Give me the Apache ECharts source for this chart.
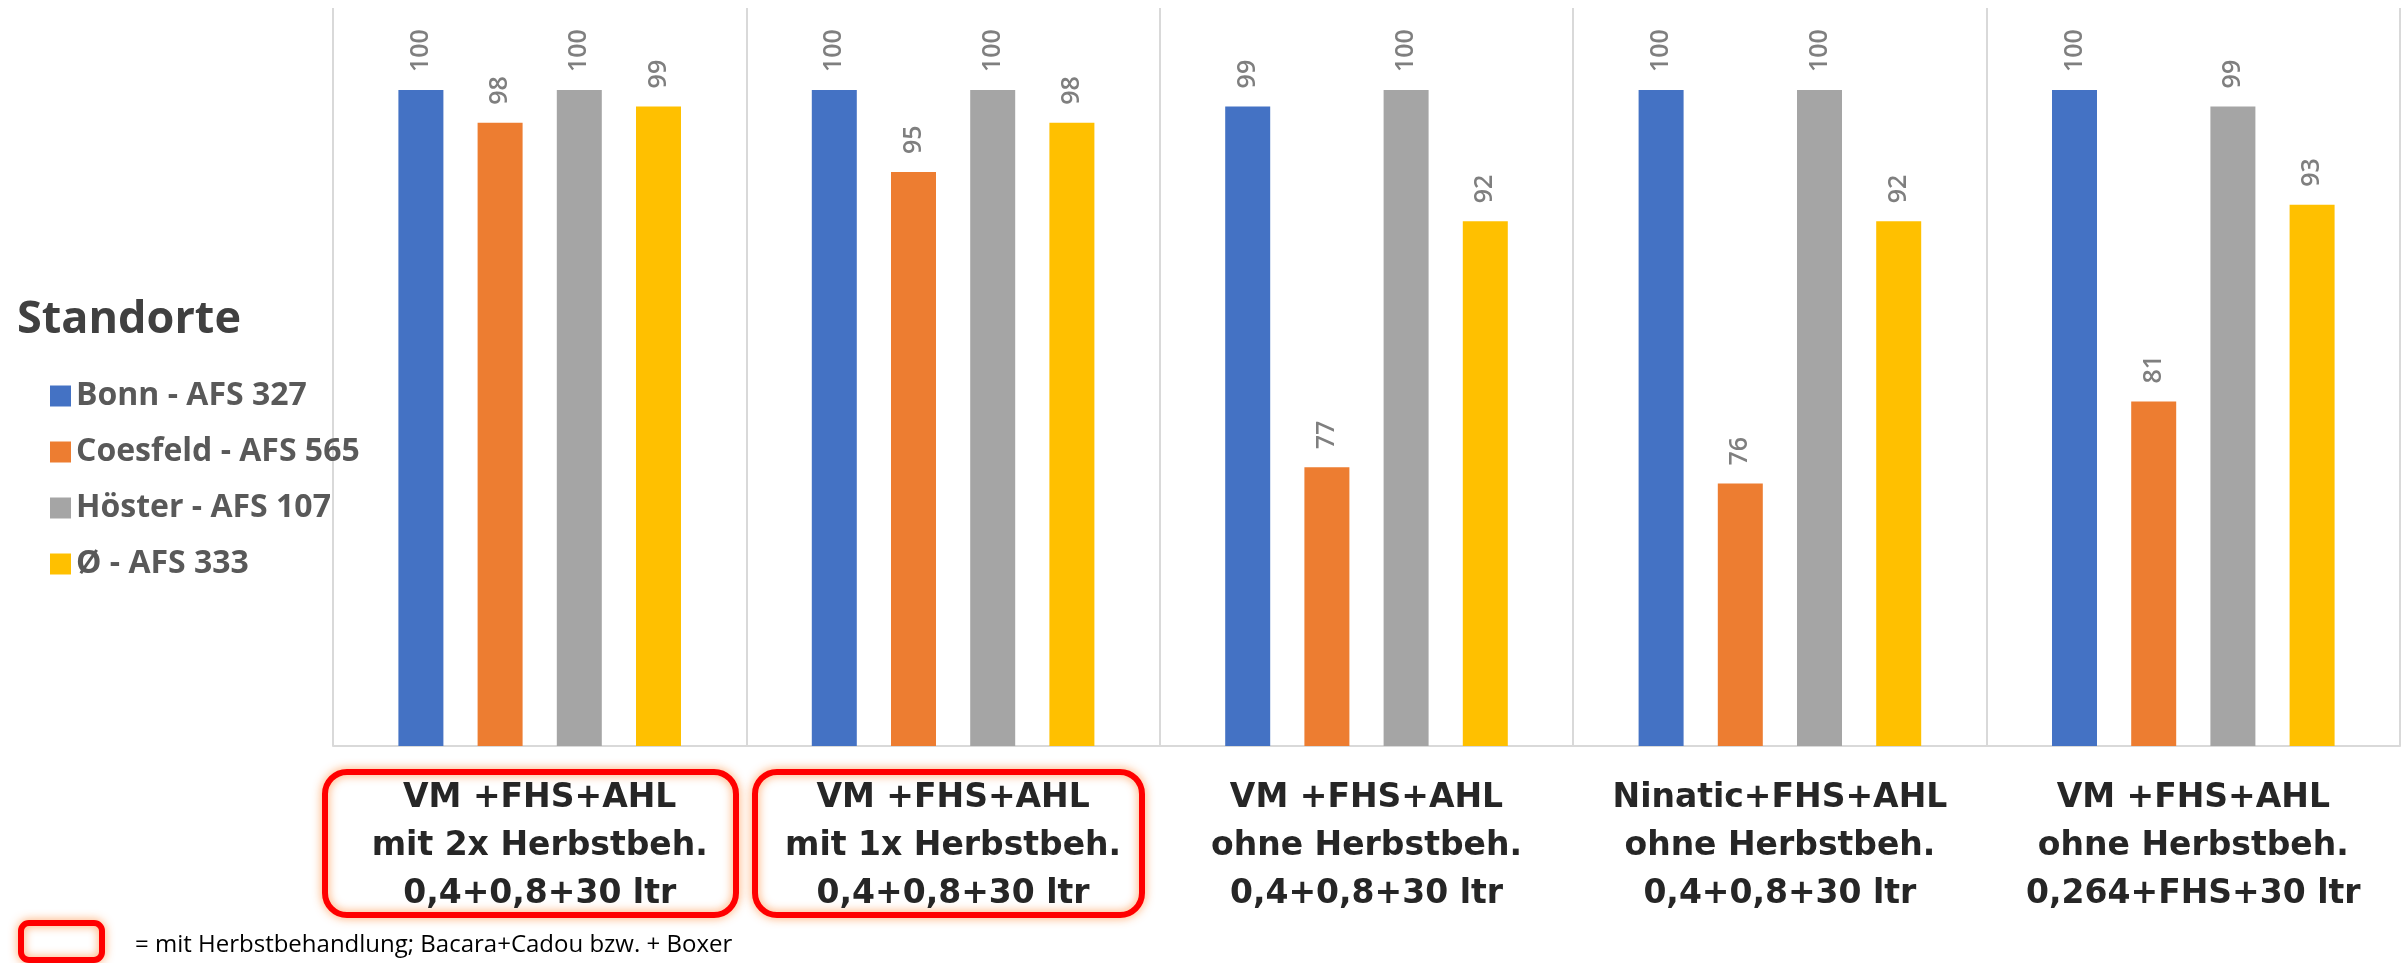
<!DOCTYPE html>
<html>
<head>
<meta charset="utf-8">
<title>Standorte</title>
<script src="https://cdn.jsdelivr.net/npm/echarts@6/dist/echarts.min.js"></script>
<style>
  html, body { margin: 0; padding: 0; background: #fff; }
  #chartBar { width: 2407px; height: 963px; }
</style>
</head>
<body>
<div id="chartBar"></div>
<script>
// Varianten (x-Achse)
var categories = [
  "VM +FHS+AHL\nmit 2x Herbstbeh.\n0,4+0,8+30 ltr",
  "VM +FHS+AHL\nmit 1x Herbstbeh.\n0,4+0,8+30 ltr",
  "VM +FHS+AHL\nohne Herbstbeh.\n0,4+0,8+30 ltr",
  "Ninatic+FHS+AHL\nohne Herbstbeh.\n0,4+0,8+30 ltr",
  "VM +FHS+AHL\nohne Herbstbeh.\n0,264+FHS+30 ltr"
];
var seriesNames = ["Bonn - AFS 327", "Coesfeld - AFS 565", "Höster - AFS 107", "Ø - AFS 333"];
var bonn = [100, 100, 99, 100, 100];
var coesfeld = [98, 95, 77, 76, 81];
var hoester = [100, 100, 100, 100, 99];
var mittel = [99, 98, 92, 92, 93];
var colors = ["#4472C4", "#ED7D31", "#A5A5A5", "#FFC000"];

var chartBar = echarts.init(document.getElementById("chartBar"));

function makeSeries(name, data, color) {
  return {
    name: name,
    type: "bar",
    data: data,
    barWidth: 45,
    barGap: "76%",
    itemStyle: { color: color },
    label: {
      show: true,
      position: "top",
      rotate: 90,
      align: "left",
      verticalAlign: "middle",
      distance: 18,
      color: "#7F7F7F",
      fontFamily: "Open Sans",
      fontWeight: 600,
      fontSize: 25
    }
  };
}

// rote Rahmen = mit Herbstbehandlung
var boxStyle = {
  fill: "none",
  stroke: "#FF0000",
  lineWidth: 6,
  shadowBlur: 10,
  shadowColor: "rgba(255,140,60,0.85)"
};

chartBar.setOption({
  animation: false,
  title: {
    text: "Standorte",
    left: 12,
    top: 290,
    textStyle: {
      fontFamily: "Open Sans",
      fontSize: 45,
      fontWeight: "bold",
      color: "#404040",
      lineHeight: 50
    }
  },
  legend: {
    orient: "vertical",
    left: 45,
    top: 375,
    itemWidth: 21,
    itemHeight: 21,
    itemGap: 24,
    icon: "rect",
    data: seriesNames,
    textStyle: {
      fontFamily: "Open Sans",
      fontSize: 32,
      fontWeight: "bold",
      color: "#595959",
      lineHeight: 32
    }
  },
  grid: {
    left: 333,
    right: 7,
    top: 8,
    bottom: 217
  },
  xAxis: {
    type: "category",
    data: categories,
    axisTick: { show: false },
    axisLine: { lineStyle: { color: "#D9D9D9", width: 2 } },
    splitLine: { show: true, lineStyle: { color: "#D9D9D9", width: 2 } },
    axisLabel: {
      margin: 28,
      interval: 0,
      fontFamily: "DejaVu Sans",
      fontSize: 33,
      fontWeight: "bold",
      color: "#262626",
      lineHeight: 48
    }
  },
  yAxis: {
    type: "value",
    min: 60,
    max: 105,
    show: false,
    splitLine: { show: false }
  },
  series: [
    makeSeries(seriesNames[0], bonn, colors[0]),
    makeSeries(seriesNames[1], coesfeld, colors[1]),
    makeSeries(seriesNames[2], hoester, colors[2]),
    makeSeries(seriesNames[3], mittel, colors[3])
  ],
  graphic: [
    { type: "rect", shape: { x: 325, y: 772, width: 411, height: 143, r: 22 }, style: boxStyle },
    { type: "rect", shape: { x: 755, y: 772, width: 387, height: 143, r: 22 }, style: boxStyle },
    { type: "rect", shape: { x: 21, y: 923, width: 81, height: 37, r: 8 }, style: boxStyle },
    {
      type: "text",
      left: 135,
      top: 933,
      style: {
        text: "= mit Herbstbehandlung; Bacara+Cadou bzw. + Boxer",
        fontFamily: "Open Sans",
        fontSize: 24,
        fill: "#000000"
      }
    }
  ]
});
</script>
</body>
</html>
